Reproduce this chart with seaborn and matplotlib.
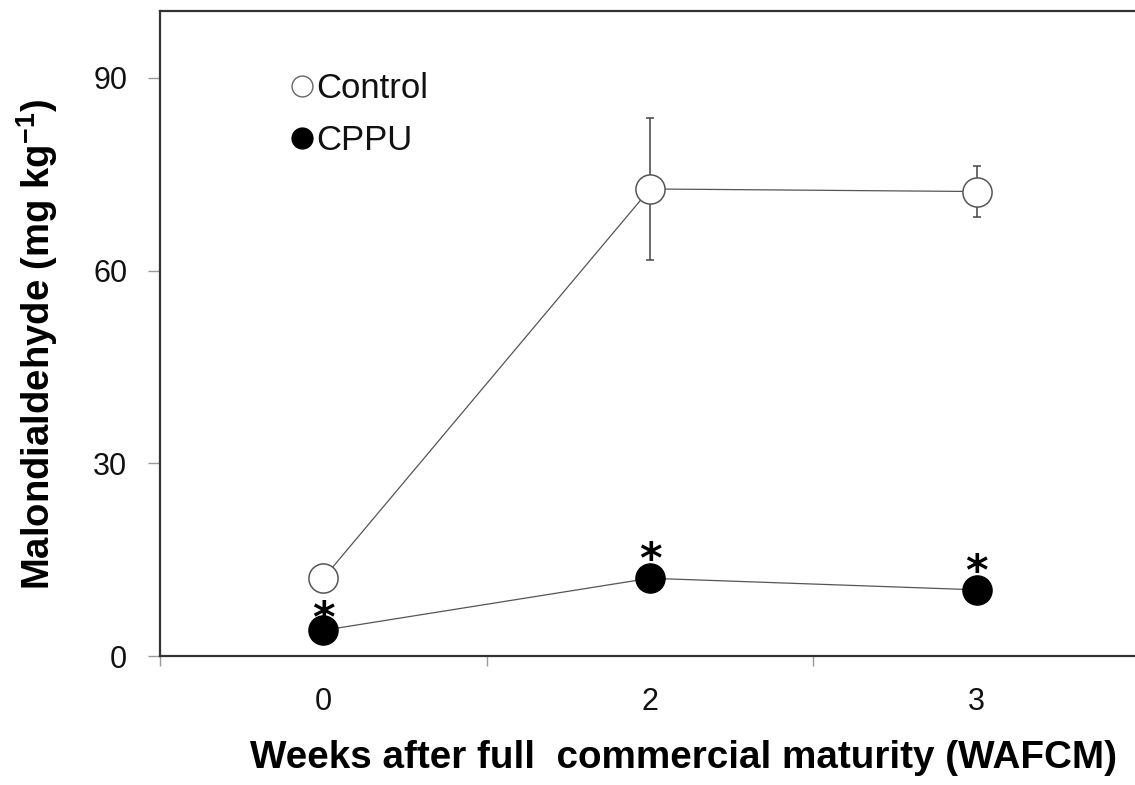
import matplotlib
matplotlib.use("Agg")
import matplotlib.pyplot as plt
from matplotlib import font_manager
from matplotlib.lines import Line2D
import numpy as np
import pandas as pd
import seaborn as sns

# Malondialdehyde content by week after full commercial maturity
weeks = ["0", "2", "3"]
control_mean = [12.1, 72.7, 72.3]
control_err = [0.0, 11.0, 4.0]
cppu_mean = [4.0, 12.1, 10.3]
cppu_sig = ["*", "*", "*"]

sns.set_theme(style="white")
names = {f.name for f in font_manager.fontManager.ttflist}
family = "Liberation Sans Narrow" if "Liberation Sans Narrow" in names else "Liberation Sans"
plt.rcParams["font.family"] = [family, "DejaVu Sans"]
plt.rcParams["mathtext.fontset"] = "custom"
plt.rcParams["mathtext.rm"] = family
plt.rcParams["mathtext.bf"] = family + ":bold"
plt.rcParams["text.color"] = "black"
plt.rcParams["axes.labelcolor"] = "black"

pos = np.arange(len(weeks))
df = pd.DataFrame({
    "pos": np.concatenate([pos, pos]),
    "value": control_mean + cppu_mean,
    "group": ["Control"] * len(weeks) + ["CPPU"] * len(weeks),
})

W, H = 1135, 785
fig = plt.figure(figsize=(W / 100, H / 100), dpi=100)
ax = fig.add_axes([160 / W, 1 - 656 / H, 980 / W, 645 / H])

line_col = "#555555"
ax.errorbar(pos, control_mean, yerr=control_err, fmt="none", ecolor="#444444",
            elinewidth=1.1, capsize=3, capthick=1.1, zorder=2)
sns.lineplot(data=df[df.group == "Control"], x="pos", y="value", ax=ax,
             color=line_col, linewidth=0.9, marker="o", markersize=21,
             markerfacecolor="white", markeredgecolor=line_col,
             markeredgewidth=1.1, zorder=3, legend=False)
sns.lineplot(data=df[df.group == "CPPU"], x="pos", y="value", ax=ax,
             color=line_col, linewidth=0.9, marker="o", markersize=21,
             markerfacecolor="black", markeredgecolor="black",
             markeredgewidth=1.0, zorder=3, legend=False)

# significance marks above the CPPU points (baseline offsets in points)
offsets = [-1.0, 3.5, 3.5]
for x, y, s, off in zip(pos, cppu_mean, cppu_sig, offsets):
    ax.annotate(s, (x, y), xytext=(0, off), textcoords="offset points",
                ha="center", va="baseline", fontsize=31, fontweight="bold",
                family="DejaVu Sans", color="black", zorder=4)

ax.set_xlim(-0.5, len(weeks) - 0.5)
ax.set_ylim(0, 100.4)
ax.set_xticks(pos)
ax.set_xticklabels(weeks)
ax.set_xticks(np.arange(-0.5, len(weeks), 1.0), minor=True)
ax.set_yticks([0, 30, 60, 90])
ax.tick_params(axis="x", which="major", length=0, pad=22, labelsize=22,
               labelcolor="#111111")
ax.tick_params(axis="x", which="minor", direction="out", length=7,
               width=1.0, color="#999999", bottom=True)
ax.tick_params(axis="y", which="major", direction="out", length=8.6,
               width=1.0, color="#999999", pad=15, labelsize=22, left=True,
               labelcolor="#111111")

for side in ["left", "bottom", "top"]:
    ax.spines[side].set_color("#333333")
    ax.spines[side].set_linewidth(1.6)
ax.spines["right"].set_visible(False)

ax.set_xlabel("Weeks after full  commercial maturity (WAFCM)",
              fontsize=27.8, fontweight="bold")
ax.set_ylabel("Malondialdehyde (mg kg$^{\\mathbf{-1}}$)",
              fontsize=27.5, fontweight="bold")
ax.xaxis.set_label_coords((683 - 160) / 980, -(740 - 656) / 645)
ax.yaxis.set_label_coords(-(160 - 60) / 980, (656 - 345) / 645)

handles = [
    Line2D([], [], linestyle="none", marker="o", markersize=15,
           markerfacecolor="white", markeredgecolor="#666666", markeredgewidth=1.0),
    Line2D([], [], linestyle="none", marker="o", markersize=15,
           markerfacecolor="black", markeredgecolor="black"),
]
leg = ax.legend(handles, ["Control", "CPPU"], loc="upper left",
                bbox_to_anchor=(288 / W, 1 - 72 / H), bbox_transform=fig.transFigure,
                frameon=False, fontsize=25, handlelength=0.8, handletextpad=0.0,
                labelspacing=0.55, borderpad=0.0, borderaxespad=0.0)
for t in leg.get_texts():
    t.set_color("#111111")

fig.savefig("out.png", dpi=100, facecolor="white")
